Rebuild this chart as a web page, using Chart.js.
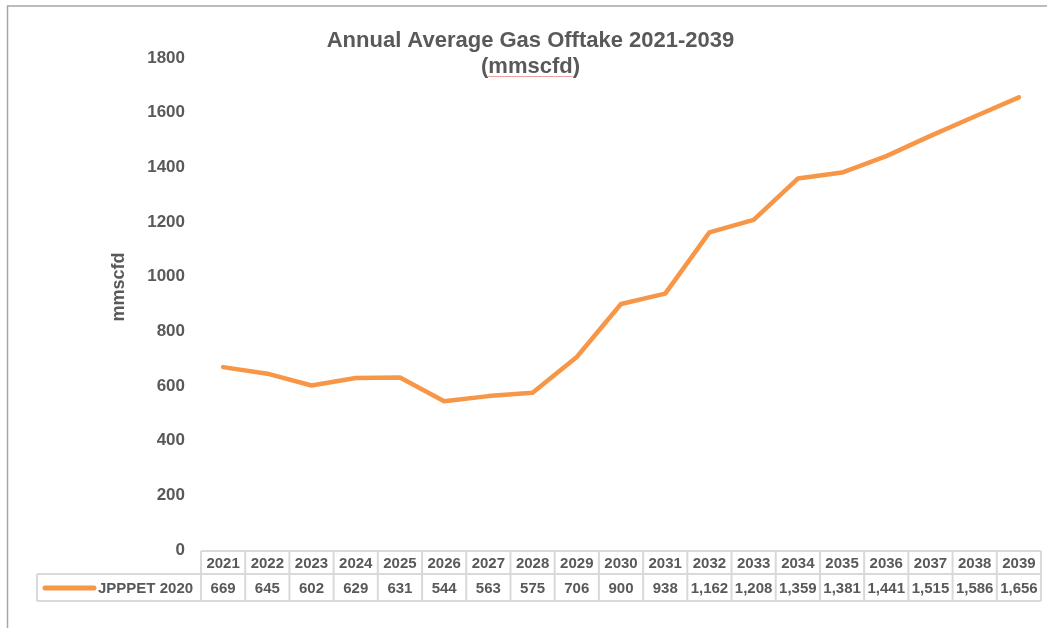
<!DOCTYPE html>
<html>
<head>
<meta charset="utf-8">
<script src="https://cdn.jsdelivr.net/npm/chart.js@4.4.1/dist/chart.umd.min.js"></script>
<style>
html,body{margin:0;padding:0;background:#ffffff;}
#wrap{position:relative;width:1047px;height:628px;}
</style>
</head>
<body>
<div id="wrap"><canvas id="c"></canvas></div>
<script>
// ---- data ----
const years = ['2021','2022','2023','2024','2025','2026','2027','2028','2029','2030','2031','2032','2033','2034','2035','2036','2037','2038','2039'];
const offtake = [669,645,602,629,631,544,563,575,706,900,938,1162,1208,1359,1381,1441,1515,1586,1656];
const seriesName = 'JPPPET 2020';
const titleLines = ['Annual Average Gas Offtake 2021-2039', '(mmscfd)'];
const yAxisTitle = 'mmscfd';
const yMin = 0, yMax = 1800, yStep = 200;

const TEXT = '#595959';
const ORANGE = '#F79646';
const FONT = '"Liberation Sans", Arial, sans-serif';

const decor = {
  id: 'decor',
  afterDraw(chart) {
    const ctx = chart.ctx;
    const area = chart.chartArea;
    const xs = chart.scales.x;
    ctx.save();

    // outer frame (cropped)
    ctx.strokeStyle = '#a6a6a6';
    ctx.lineWidth = 1.5;
    ctx.beginPath();
    ctx.moveTo(7.5, 628);
    ctx.lineTo(7.5, 6);
    ctx.lineTo(1047, 6);
    ctx.stroke();

    // title
    ctx.fillStyle = TEXT;
    ctx.font = 'bold 22px ' + FONT;
    ctx.textAlign = 'center';
    ctx.textBaseline = 'alphabetic';
    const cx = 530.5;
    ctx.fillText(titleLines[0], cx, 47);
    ctx.fillText(titleLines[1], cx, 73);
    // spell-check style underline under mmscfd
    const w2 = ctx.measureText(titleLines[1]).width;
    const wp = ctx.measureText('(').width;
    const wm = ctx.measureText(yAxisTitle).width;
    const ux = cx - w2 / 2 + wp;
    ctx.strokeStyle = '#e8a0a0';
    ctx.lineWidth = 1;
    ctx.beginPath();
    ctx.moveTo(ux, 76.5);
    ctx.lineTo(ux + wm, 76.5);
    ctx.stroke();

    // y axis title
    ctx.save();
    ctx.translate(124, 287);
    ctx.rotate(-Math.PI / 2);
    ctx.font = 'bold 18px ' + FONT;
    ctx.fillStyle = TEXT;
    ctx.textAlign = 'center';
    ctx.textBaseline = 'alphabetic';
    ctx.fillText(yAxisTitle, 0, 0);
    ctx.restore();

    // data table
    const n = years.length;
    const step = xs.getPixelForValue(1) - xs.getPixelForValue(0);
    const left = xs.getPixelForValue(0) - step / 2;
    const right = xs.getPixelForValue(n - 1) + step / 2;
    const top = area.bottom + 1;
    const mid = top + 23;
    const bot = mid + 27;
    const legLeft = 37;

    ctx.strokeStyle = '#d9d9d9';
    ctx.lineWidth = 2;
    ctx.beginPath();
    ctx.moveTo(left, top); ctx.lineTo(right, top);
    ctx.moveTo(legLeft, mid); ctx.lineTo(right, mid);
    ctx.moveTo(legLeft, bot); ctx.lineTo(right, bot);
    ctx.moveTo(legLeft, mid); ctx.lineTo(legLeft, bot);
    for (let k = 0; k <= n; k++) {
      const x = left + k * step;
      ctx.moveTo(x, top); ctx.lineTo(x, bot);
    }
    ctx.stroke();

    ctx.fillStyle = TEXT;
    ctx.font = 'bold 15px ' + FONT;
    ctx.textAlign = 'center';
    ctx.textBaseline = 'middle';
    for (let i = 0; i < n; i++) {
      const x = xs.getPixelForValue(i);
      ctx.fillText(years[i], x, (top + mid) / 2 + 1);
      ctx.fillText(offtake[i].toLocaleString('en-US'), x, (mid + bot) / 2 + 1);
    }

    // legend key
    ctx.strokeStyle = ORANGE;
    ctx.lineWidth = 5;
    ctx.lineCap = 'round';
    ctx.beginPath();
    ctx.moveTo(45, (mid + bot) / 2 + 0.5);
    ctx.lineTo(94, (mid + bot) / 2 + 0.5);
    ctx.stroke();
    ctx.textAlign = 'left';
    ctx.fillText(seriesName, 98, (mid + bot) / 2 + 1);

    ctx.restore();
  }
};

new Chart(document.getElementById('c'), {
  type: 'line',
  data: {
    labels: years,
    datasets: [{
      label: seriesName,
      data: offtake,
      borderColor: ORANGE,
      backgroundColor: ORANGE,
      borderWidth: 4.5,
      borderCapStyle: 'round',
      borderJoinStyle: 'round',
      pointRadius: 0,
      pointHoverRadius: 0,
      tension: 0,
      fill: false
    }]
  },
  options: {
    responsive: true,
    maintainAspectRatio: false,
    devicePixelRatio: 1,
    animation: false,
    layout: { padding: { left: 0, right: 6, top: 58, bottom: 78 } },
    plugins: {
      legend: { display: false },
      title: { display: false },
      tooltip: { enabled: false }
    },
    scales: {
      x: {
        type: 'category',
        offset: true,
        display: false
      },
      y: {
        min: yMin,
        max: yMax,
        afterFit(scale) { scale.width = 201; },
        grid: { display: false, drawTicks: false },
        border: { display: false },
        ticks: {
          stepSize: yStep,
          padding: 16,
          color: TEXT,
          font: { family: FONT, size: 17, weight: 'bold' },
          callback: (v) => String(v)
        }
      }
    }
  },
  plugins: [decor]
});
</script>
</body>
</html>
